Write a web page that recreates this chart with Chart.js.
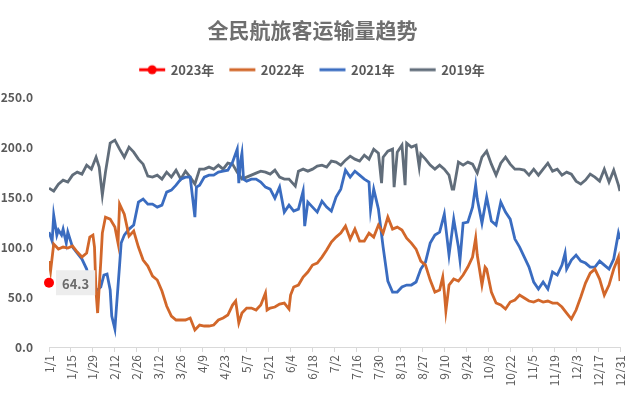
<!DOCTYPE html>
<html>
<head>
<meta charset="utf-8">
<script src="https://cdn.jsdelivr.net/npm/chart.js@4.4.1/dist/chart.umd.min.js"></script>
<style>
  html, body { margin: 0; padding: 0; overflow: hidden; background: #fff; }
  #wrap { width: 625px; height: 396px; }
</style>
</head>
<body>
<div id="wrap"><canvas id="myChart"></canvas></div>
<script>
// tick labels, one every 14 days (day index 0..364)
var tickLabels = ['1/1','1/15','1/29','2/12','2/26','3/12','3/26','4/9','4/23','5/7','5/21','6/4','6/18',
  '7/2','7/16','7/30','8/13','8/27','9/10','9/24','10/8','10/22','11/5','11/19','12/3','12/17','12/31'];

var seriesNames = ['2023年', '2022年', '2021年', '2019年'];
var seriesColors = ['#ff0000', '#d2672a', '#3a6cc0', '#616d7a'];

// 2023 (only the first day so far)
var days2023 = [0];
var val2023 = [64.3];

// 2022
var days2022 = [0,1,3,6,9,12,15,18,21,24,26,28,29,30,31,33,34,36,39,42,44,45,48,51,54,57,60,63,66,69,72,75,78,81,84,87,90,93,96,99,
  102,105,108,111,114,117,119,121,123,126,129,132,135,138,139,141,144,147,150,153,154,156,159,162,165,168,171,174,177,180,
  183,186,189,192,195,198,201,204,207,210,213,216,219,222,225,228,231,234,237,240,243,246,249,251,252,253,255,258,261,264,
  267,270,272,273,276,278,279,282,285,288,291,294,297,300,303,306,309,312,315,318,321,324,327,330,333,336,339,342,345,348,
  351,354,357,360,363,364];
var val2022 = [86,76,103,98,100,99,101,95,90,94,110,112,100,55,34,85,114,130,128,120,104,143,133,111,116,100,87,81,71,67,
  56,41,31,27,27,27,29,17,22,21,21,22,27,29,32,42,46,24,34,39,39,37,42,54,37,39,40,43,44,38,52,60,62,70,75,82,84,90,97,105,
  110,114,121,108,118,106,106,114,110,122,114,130,118,120,117,109,104,98,86,82,67,55,57,70,55,36,62,68,66,72,
  80,90,109,92,62,80,78,55,44,42,38,45,47,52,49,46,45,47,45,46,44,44,40,34,28,37,50,64,74,78,
  68,52,62,78,90,66];

// 2021
var days2021 = [0,2,3,5,6,8,9,11,12,15,18,21,24,26,27,30,33,35,37,39,40,42,43,45,46,48,51,54,57,60,63,66,69,72,75,78,81,84,87,90,
  93,94,96,99,102,105,108,111,114,117,120,121,122,123,124,126,129,132,135,138,141,144,147,150,153,156,159,162,163,165,
  168,171,174,177,180,183,186,189,192,195,198,201,204,205,207,210,213,216,219,222,225,228,231,234,237,240,243,246,249,252,
  255,258,261,262,264,267,270,272,273,276,279,282,285,288,291,294,297,300,303,306,309,312,315,318,321,324,327,329,330,333,
  336,339,342,345,348,351,354,357,360,363,364];
var val2021 = [115,106,132,112,117,112,118,104,115,100,94,88,78,62,54,56,60,72,73,57,31,18,40,82,104,112,118,122,145,148,
  143,143,140,142,155,157,162,168,170,170,130,160,162,170,172,172,175,176,177,185,198,164,185,194,168,166,168,168,165,160,
  158,149,160,135,142,136,138,156,121,145,140,135,146,140,136,150,158,177,170,176,172,168,165,137,158,138,100,66,55,55,
  60,62,62,65,78,85,104,112,115,133,92,128,100,87,124,125,140,162,148,124,150,126,122,145,135,128,108,100,90,80,
  65,58,65,58,75,72,82,94,78,87,92,86,84,80,80,86,82,78,88,114,108];

// 2019
var days2019 = [0,3,6,9,12,15,18,21,24,27,30,32,34,36,39,42,45,48,51,54,57,60,63,66,69,72,75,78,81,84,87,90,93,96,99,102,105,108,
  111,114,117,120,123,126,129,132,135,138,141,144,147,150,153,157,159,162,165,168,171,174,177,180,183,186,189,192,195,198,
  201,204,207,210,212,213,216,219,220,222,225,227,228,231,234,236,237,240,243,246,249,252,255,257,258,261,264,267,270,273,
  276,279,282,285,288,291,294,297,300,303,306,309,312,315,318,321,324,327,330,333,336,339,342,345,348,351,354,357,360,363,364];
var val2019 = [159,156,163,167,165,172,175,173,182,178,190,180,152,175,204,207,198,190,200,195,188,183,171,170,172,168,175,170,
  177,168,176,170,163,178,178,180,178,182,178,184,183,175,168,170,172,174,176,175,173,177,170,168,168,161,176,178,176,178,
  181,182,180,186,185,182,187,191,188,186,192,188,198,194,164,190,196,198,160,195,202,162,204,200,202,180,193,188,182,178,
  182,178,172,158,158,185,182,185,183,174,190,196,183,172,184,190,183,178,178,177,172,178,172,178,184,176,178,172,175,173,
  166,163,167,173,170,166,178,165,177,162,156];

function toPoints(days, vals) {
  return days.map(function (d, i) { return { x: d, y: vals[i] }; });
}

function legendMark(color, dot) {
  var c = document.createElement('canvas');
  c.width = 28; c.height = 12;
  var g = c.getContext('2d');
  g.strokeStyle = color;
  g.lineWidth = 3;
  g.beginPath(); g.moveTo(1, 6); g.lineTo(27, 6); g.stroke();
  if (dot) {
    g.fillStyle = color;
    g.beginPath(); g.arc(14, 6, 4.5, 0, Math.PI * 2); g.fill();
  }
  return c;
}
var marks = seriesColors.map(function (c, i) { return legendMark(c, i === 0); });

// a bit more room under the legend
var legendGap = {
  id: 'legendGap',
  beforeInit: function (chart) {
    var lg = chart.legend;
    if (!lg) return;
    var fit = lg.fit;
    lg.fit = function () { fit.call(this); this.height += 11; };
  }
};

// value label next to the 2023 point
var pointLabel = {
  id: 'pointLabel',
  afterDatasetsDraw: function (chart) {
    var pt = chart.getDatasetMeta(0).data[0];
    if (!pt) return;
    var ctx = chart.ctx;
    var text = val2023[0].toFixed(1);
    ctx.save();
    ctx.font = 'bold 13px "Noto Sans CJK SC", sans-serif';
    var w = ctx.measureText(text).width + 12;
    var h = 25;
    ctx.fillStyle = '#ededed';
    ctx.fillRect(pt.x + 7, pt.y - h / 2, w, h);
    ctx.fillStyle = '#6b6b6b';
    ctx.textBaseline = 'middle';
    ctx.fillText(text, pt.x + 13, pt.y + 1);
    ctx.restore();
  }
};

var font = '"Noto Sans CJK SC", "Noto Sans", sans-serif';

var ctx = document.getElementById('myChart').getContext('2d');
var myChart = new Chart(ctx, {
  type: 'line',
  data: {
    datasets: [{
      label: seriesNames[0],
      data: toPoints(days2023, val2023),
      borderColor: seriesColors[0],
      backgroundColor: seriesColors[0],
      pointRadius: 5,
      pointBorderWidth: 0,
      clip: false
    }, {
      label: seriesNames[1],
      data: toPoints(days2022, val2022),
      borderColor: seriesColors[1],
      backgroundColor: seriesColors[1],
      borderWidth: 2.8,
      pointRadius: 0
    }, {
      label: seriesNames[2],
      data: toPoints(days2021, val2021),
      borderColor: seriesColors[2],
      backgroundColor: seriesColors[2],
      borderWidth: 2.8,
      pointRadius: 0
    }, {
      label: seriesNames[3],
      data: toPoints(days2019, val2019),
      borderColor: seriesColors[3],
      backgroundColor: seriesColors[3],
      borderWidth: 2.8,
      pointRadius: 0
    }]
  },
  options: {
    responsive: true,
    maintainAspectRatio: false,
    animation: false,
    layout: { padding: 0 },
    plugins: {
      title: {
        display: true,
        text: '全民航旅客运输量趋势',
        color: '#6f6f6f',
        font: { family: font, size: 21, weight: 'bold' },
        padding: { top: 17, bottom: 5 }
      },
      legend: {
        labels: {
          color: '#595959',
          font: { family: font, size: 13, weight: 'bold' },
          usePointStyle: true,
          pointStyleWidth: 24,
          padding: 16,
          generateLabels: function (chart) {
            var items = Chart.defaults.plugins.legend.labels.generateLabels(chart);
            items.forEach(function (it, i) { it.pointStyle = marks[i]; });
            return items;
          }
        }
      },
      tooltip: { enabled: false }
    },
    scales: {
      x: {
        type: 'linear',
        min: 0,
        max: 364,
        afterFit: function (scale) {
          scale.height = 49;
          scale.paddingRight = 3;
        },
        ticks: {
          stepSize: 14,
          autoSkip: false,
          minRotation: 90,
          maxRotation: 90,
          color: '#595959',
          font: { family: font, size: 12 },
          callback: function (v) { return tickLabels[Math.round(v / 14)]; }
        },
        grid: { drawOnChartArea: false, drawTicks: true, tickLength: 5, color: '#d9d9d9' },
        border: { color: '#d9d9d9' }
      },
      y: {
        min: 0,
        max: 250,
        afterFit: function (scale) { scale.width = 49; },
        ticks: {
          stepSize: 50,
          padding: 8,
          color: '#595959',
          font: { family: font, size: 12, weight: 'bold' },
          callback: function (v) { return v.toFixed(1); }
        },
        grid: { display: false },
        border: { display: false }
      }
    }
  },
  plugins: [legendGap, pointLabel]
});
</script>
</body>
</html>
